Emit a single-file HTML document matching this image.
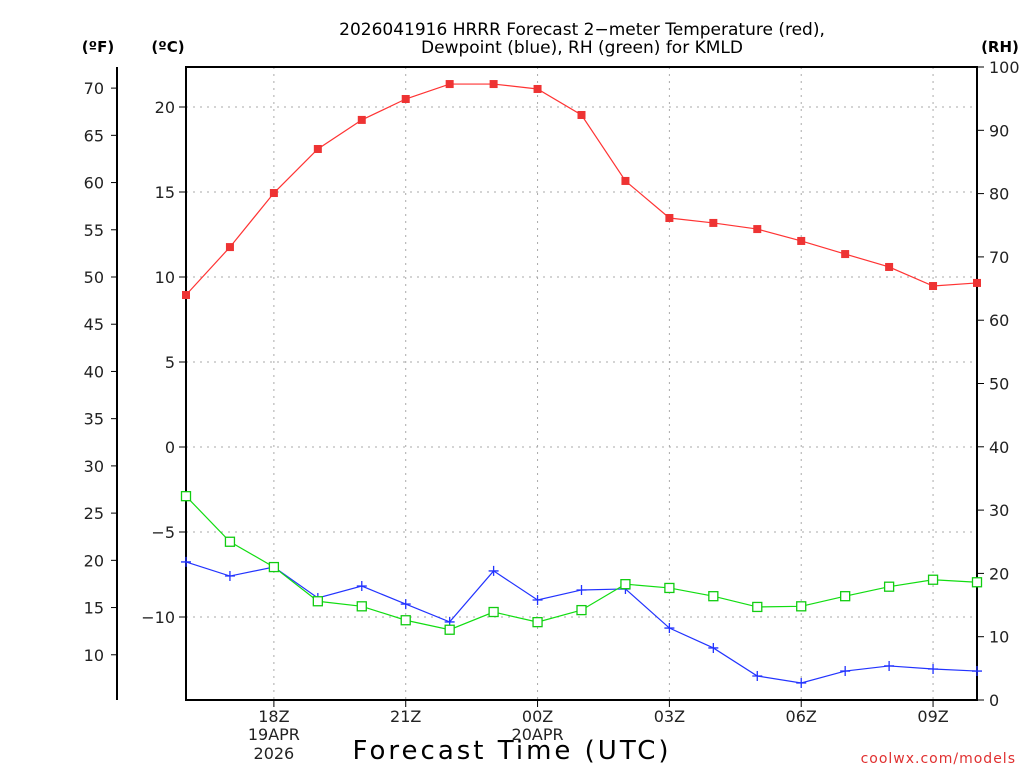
<!DOCTYPE html>
<html><head><meta charset="utf-8"><style>
html,body{margin:0;padding:0;background:#fff;}
svg text{font-family:"DejaVu Sans","Liberation Sans",sans-serif;}
</style></head><body>
<svg id="chart" width="1024" height="768" viewBox="0 0 1024 768" xmlns="http://www.w3.org/2000/svg">
<rect width="1024" height="768" fill="#fff"/>
<text x="582" y="35" font-size="17" text-anchor="middle" fill="#000">2026041916 HRRR Forecast 2−meter Temperature (red),</text>
<text x="582" y="53" font-size="17" text-anchor="middle" fill="#000">Dewpoint (blue), RH (green) for KMLD</text>
<text x="98" y="52" font-size="15" font-weight="bold" text-anchor="middle">(ºF)</text>
<text x="168" y="52" font-size="15" font-weight="bold" text-anchor="middle">(ºC)</text>
<text x="1000" y="52" font-size="15" font-weight="bold" text-anchor="middle">(RH)</text>
<text x="512" y="759" font-size="26" letter-spacing="3" text-anchor="middle">Forecast Time (UTC)</text>
<text x="1016" y="763" font-size="14" letter-spacing="1" text-anchor="end" fill="#e03030">coolwx.com/models</text>
<g id="grid"></g>
<g id="axes"></g>
<g id="series"></g>
</svg>
<script>
const hours = ["16","17","18","19","20","21","22","23","00","01","02","03","04","05","06","07","08","09","10"];
const tempC = [8.94,11.76,14.94,17.53,19.24,20.47,21.35,21.35,21.06,19.53,15.65,13.47,13.18,12.82,12.12,11.35,10.59,9.47,9.65];
const dewC = [-6.76,-7.59,-7.06,-8.88,-8.18,-9.24,-10.29,-7.29,-9.0,-8.41,-8.35,-10.65,-11.82,-13.47,-13.88,-13.18,-12.88,-13.06,-13.18];
const rh = [32.2,25.0,21.0,15.6,14.8,12.6,11.1,13.9,12.3,14.2,18.3,17.7,16.4,14.7,14.8,16.4,17.9,19.0,18.6];
const cTicks = [20,15,10,5,0,-5,-10];
const fTicks = [70,65,60,55,50,45,40,35,30,25,20,15,10];
const rhTicks = [100,90,80,70,60,50,40,30,20,10,0];
const xTickIdx = [2,5,8,11,14,17];
const xTickLabels = ["18Z","21Z","00Z","03Z","06Z","09Z"];

const NS="http://www.w3.org/2000/svg";
const L=186,R=977,T=67,B=700;
const xS=i=>L+(R-L)*i/(hours.length-1);
const yC=c=>447-17*c;
const yF=f=>yC((f-32)/1.8);
const yRH=r=>B-(B-T)*r/100;
function mk(tag,attrs,parent,txt){const e=document.createElementNS(NS,tag);for(const k in attrs)e.setAttribute(k,attrs[k]);if(txt!==undefined)e.textContent=txt;parent.appendChild(e);return e;}
const grid=document.getElementById('grid'),axes=document.getElementById('axes'),ser=document.getElementById('series');

cTicks.forEach(c=>{
  const g=mk('line',{x1:L,x2:R,y1:yC(c),y2:yC(c),stroke:'#aaa','stroke-dasharray':'2,5'},grid);
  
  
  mk('line',{x1:L-7,x2:L,y1:yC(c),y2:yC(c),stroke:'#000'},axes);
  const t=mk('text',{x:L-11,y:yC(c)+6,'font-size':16,'text-anchor':'end',fill:'#222'},axes,(c<0?'−':'')+Math.abs(c));
  
  
});
xTickIdx.forEach((i,k)=>{
  const x=xS(i);
  const g=mk('line',{x1:x,x2:x,y1:T,y2:B,stroke:'#aaa','stroke-dasharray':'2,5'},grid);
  
  
  mk('line',{x1:x,x2:x,y1:B,y2:B+7,stroke:'#000'},axes);
  const t=mk('text',{x:x,y:722,'font-size':16,'text-anchor':'middle',fill:'#222'},axes,xTickLabels[k]);
  
  
});
[["19APR",740,2],["2026",759,2],["20APR",740,8]].forEach(a=>{
  const t=mk('text',{x:xS(a[2]),y:a[1],'font-size':16,'text-anchor':'middle',fill:'#222'},axes,a[0]);
  
  
});
fTicks.forEach(f=>{
  mk('line',{x1:111,x2:117,y1:yF(f),y2:yF(f),stroke:'#000'},axes);
  const t=mk('text',{x:104,y:yF(f)+6,'font-size':16,'text-anchor':'end',fill:'#222'},axes,f);
  
  
});
rhTicks.forEach(r=>{
  mk('line',{x1:R,x2:R+7,y1:yRH(r),y2:yRH(r),stroke:'#000'},axes);
  const t=mk('text',{x:989,y:yRH(r)+6,'font-size':16,'text-anchor':'start',fill:'#222'},axes,r);
  
  
});
const fl=mk('line',{x1:117,x2:117,y1:67,y2:700,stroke:'#000','stroke-width':2},axes);


const fr=mk('rect',{x:L,y:T,width:R-L,height:B-T,fill:'none',stroke:'#000','stroke-width':2},axes);



function line(vals,yf,color,name){
  const p=mk('polyline',{points:vals.map((v,i)=>xS(i)+','+yf(v)).join(' '),fill:'none',stroke:color,'stroke-width':1.2},ser);
  
  
}
line(tempC,yC,'#ff3333','temperature-line');
line(dewC,yC,'#2233ff','dewpoint-line');
line(rh,yRH,'#11dd11','rh-line');
tempC.forEach((v,i)=>{
  const m=mk('rect',{x:xS(i)-4,y:yC(v)-4,width:8,height:8,fill:'#ee3333'},ser);
  
  
});
dewC.forEach((v,i)=>{
  const x=xS(i),y=yC(v);
  const m=mk('path',{d:`M${x-5},${y}H${x+5}M${x},${y-5}V${y+5}`,stroke:'#2233ff','stroke-width':1.3},ser);
  
  
});
rh.forEach((v,i)=>{
  const m=mk('rect',{x:xS(i)-4.5,y:yRH(v)-4.5,width:9,height:9,fill:'#fff',stroke:'#11cc11','stroke-width':1.3},ser);
  
  
});
</script>
</body></html>
